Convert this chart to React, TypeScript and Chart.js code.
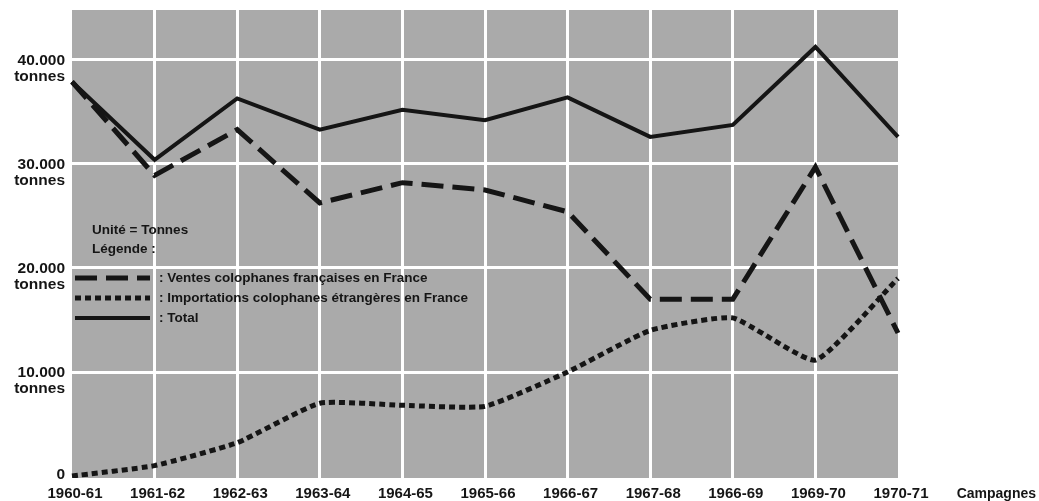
import React, { useEffect, useRef } from "react";
import { Chart, registerables } from "chart.js";

Chart.register(...registerables);

const categories = [
  "1960-61", "1961-62", "1962-63", "1963-64", "1964-65", "1965-66",
  "1966-67", "1967-68", "1966-69", "1969-70", "1970-71",
];
const totalValues = [37900, 30400, 36300, 33300, 35200, 34200, 36400, 32600, 33750, 41250, 32600];
const ventesValues = [37900, 28900, 33300, 26250, 28200, 27500, 25400, 17000, 17000, 29700, 13750];
const importValues = [0, 1000, 3200, 7000, 6800, 6700, 10000, 14000, 15200, 11150, 19000];

const yTickValues = [0, 10000, 20000, 30000, 40000];
const yTickLabels = [["0"], ["10.000", "tonnes"], ["20.000", "tonnes"], ["30.000", "tonnes"], ["40.000", "tonnes"]];

const legendUnit = "Unité = Tonnes";
const legendTitle = "Légende :";
const legendLabels = [
  ": Ventes colophanes françaises en France",
  ": Importations colophanes étrangères en France",
  ": Total",
];
const xAxisTitle = "Campagnes";

const FONT = "'Liberation Sans', Arial, sans-serif";
const INK = "#151515";
const DASH_VENTES = [22, 9];
const DASH_IMPORT = [6, 4];

const decorPlugin = {
  id: "decor",
  beforeDraw(chart: any) {
    const { ctx, chartArea } = chart;
    ctx.save();
    ctx.fillStyle = "#aaaaaa";
    ctx.fillRect(chartArea.left, chartArea.top, chartArea.right - chartArea.left, chartArea.bottom - chartArea.top);
    ctx.restore();
  },
  afterDraw(chart: any) {
    const { ctx, chartArea } = chart;
    const y = chart.scales.y;
    ctx.save();
    // y tick labels
    ctx.fillStyle = INK;
    ctx.font = `bold 15.5px ${FONT}`;
    ctx.textAlign = "right";
    ctx.textBaseline = "middle";
    yTickValues.forEach((v, i) => {
      const py = y.getPixelForValue(v);
      const lines = yTickLabels[i];
      const base = lines.length === 1 ? py - 1 : py + 1;
      lines.forEach((t, j) => ctx.fillText(t, 65, base + j * 16));
    });
    // x axis title
    ctx.textAlign = "right";
    ctx.font = `bold 14px ${FONT}`;
    ctx.fillText(xAxisTitle, 1036, 494);

    // legend
    const lx = chartArea.left;
    ctx.textAlign = "left";
    ctx.font = `bold 13.5px ${FONT}`;
    ctx.fillText(legendUnit, lx + 20, 230);
    ctx.fillText(legendTitle, lx + 20, 249);
    const rows = [278, 298, 318];
    const styles = [
      { dash: DASH_VENTES, w: 5 },
      { dash: DASH_IMPORT, w: 5 },
      { dash: [], w: 4 },
    ];
    rows.forEach((ry, i) => {
      ctx.beginPath();
      ctx.setLineDash(styles[i].dash);
      ctx.lineWidth = styles[i].w;
      ctx.strokeStyle = INK;
      ctx.moveTo(lx + 3, ry);
      ctx.lineTo(lx + 78, ry);
      ctx.stroke();
      ctx.setLineDash([]);
      ctx.fillText(legendLabels[i], lx + 87, ry);
    });
    ctx.restore();
  },
};

export default function App() {
  const ref = useRef<HTMLCanvasElement>(null);
  useEffect(() => {
    if (!ref.current) return;
    const chart = new Chart(ref.current, {
      type: "line",
      data: {
        labels: categories,
        datasets: [
          {
            label: "Total",
            data: totalValues,
            borderColor: INK,
            borderWidth: 4,
            pointRadius: 0,
            tension: 0,
            fill: false,
          },
          {
            label: "Ventes",
            data: ventesValues,
            borderColor: INK,
            borderWidth: 5,
            borderDash: DASH_VENTES,
            pointRadius: 0,
            tension: 0,
            fill: false,
          },
          {
            label: "Importations",
            data: importValues,
            borderColor: INK,
            borderWidth: 5,
            borderDash: DASH_IMPORT,
            pointRadius: 0,
            tension: 0.15,
            fill: false,
          },
        ],
      },
      options: {
        animation: false,
        responsive: false,
        maintainAspectRatio: false,
        layout: { padding: { top: 10, right: 141, left: 0, bottom: 0 } },
        plugins: {
          legend: { display: false },
          tooltip: { enabled: false },
        },
        scales: {
          x: {
            offset: false,
            border: { display: false },
            grid: {
              drawTicks: false,
              lineWidth: 3,
              color: (c: any) => (c.index === 0 || c.index === categories.length - 1 ? "rgba(0,0,0,0)" : "#ffffff"),
            },
            ticks: {
              color: INK,
              font: { family: FONT, size: 15, weight: "bold" },
              padding: 7,
              labelOffset: 3,
              maxRotation: 0,
              autoSkip: false,
            },
            afterFit: (s: any) => {
              s.height = 23;
            },
          },
          y: {
            min: -190,
            max: 44800,
            border: { display: false },
            grid: {
              drawTicks: false,
              lineWidth: 3,
              color: (c: any) => (c.tick && c.tick.value === 0 ? "rgba(0,0,0,0)" : "#ffffff"),
            },
            ticks: { display: false },
            afterBuildTicks: (s: any) => {
              s.ticks = yTickValues.map((v) => ({ value: v }));
            },
            afterFit: (s: any) => {
              s.width = 72;
            },
          },
        },
      },
      plugins: [decorPlugin],
    } as any);
    return () => chart.destroy();
  }, []);
  return (
    <div style={{ position: "fixed", left: 0, top: 0, width: 1039, height: 501, background: "#fff" }}>
      <canvas ref={ref} width={1039} height={501} style={{ width: 1039, height: 501, display: "block" }} />
    </div>
  );
}
